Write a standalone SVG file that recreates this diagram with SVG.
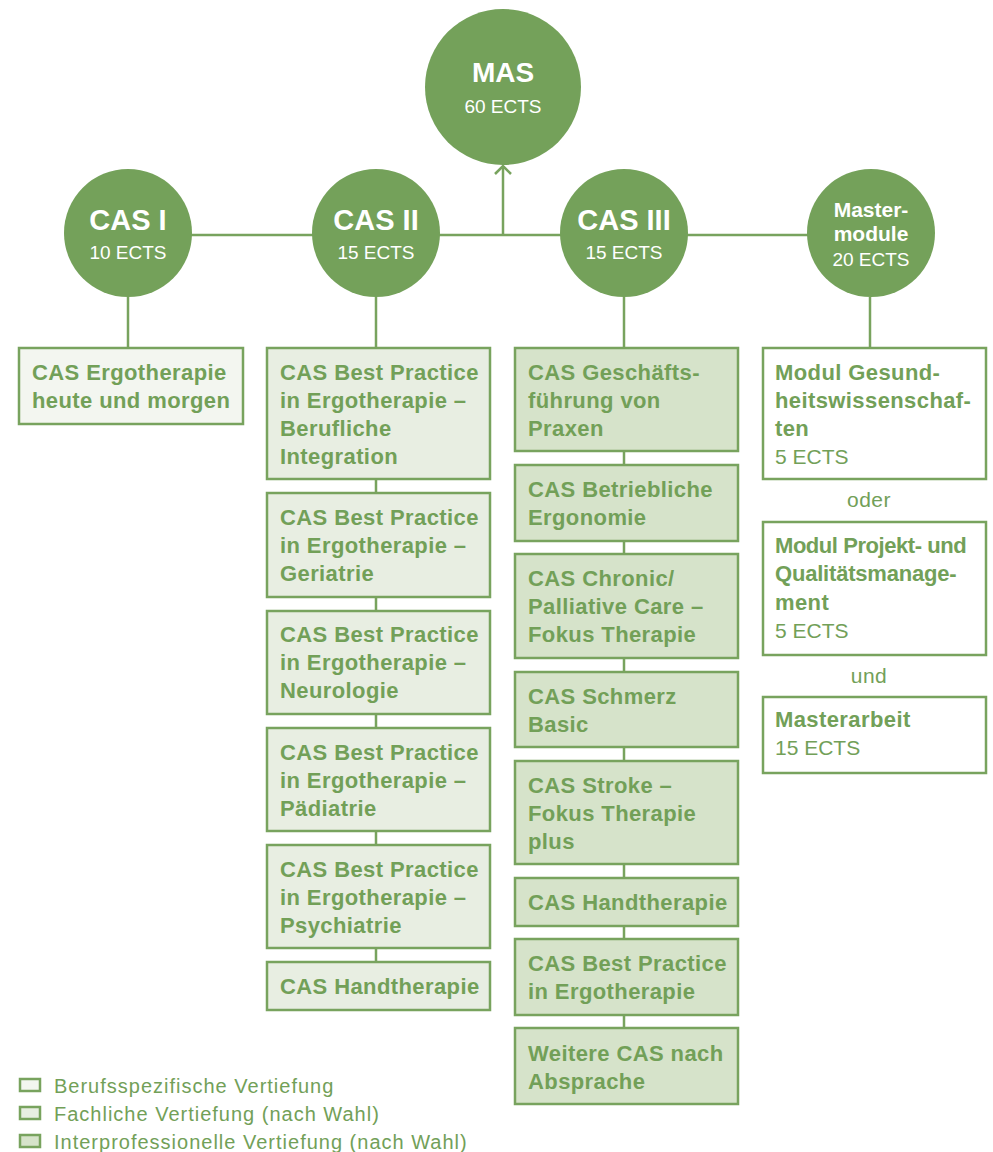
<svg xmlns="http://www.w3.org/2000/svg" width="993" height="1152" viewBox="0 0 993 1152">
<style>
.c{fill:#74a15a}
.ln{stroke:#78a35e;stroke-width:2.5;fill:none}
.b{stroke:#78a35e;stroke-width:2.5}
.f1{fill:#f3f6f0}.f2{fill:#e8eee2}.f3{fill:#d6e3ca}.f0{fill:#ffffff}
text{font-family:"Liberation Sans",Arial,sans-serif}
.ct{fill:#ffffff;font-weight:bold;text-anchor:middle}
.cs{fill:#ffffff;font-size:19px;text-anchor:middle}
.bt{fill:#72a058;font-weight:bold;font-size:22px;letter-spacing:0.4px}
.rt{fill:#72a058;font-size:21px}
.lg{fill:#72a058;font-size:20px;letter-spacing:1px}
.ot{fill:#72a058;font-size:21px;letter-spacing:0.5px;text-anchor:middle}
</style>
<g id="connectors">
<line class="ln" x1="128" y1="235" x2="871" y2="235"/>
<line class="ln" x1="503" y1="235" x2="503" y2="166"/>
<polyline class="ln" points="495,174 503,166 511,174"/>
<line class="ln" x1="128" y1="297" x2="128" y2="348"/>
<line class="ln" x1="376" y1="297" x2="376" y2="348"/>
<line class="ln" x1="624" y1="297" x2="624" y2="348"/>
<line class="ln" x1="870" y1="297" x2="870" y2="348"/>
<line class="ln" x1="376" y1="479" x2="376" y2="962"/>
<line class="ln" x1="624" y1="451" x2="624" y2="1028"/>
</g>
<g id="mas"><circle class="c" cx="503" cy="87" r="78"/>
<text class="ct" x="503" y="82" font-size="28">MAS</text>
<text class="cs" x="503" y="113">60 ECTS</text></g>
<g id="cas1"><circle class="c" cx="128" cy="233" r="64"/>
<text class="ct" x="128" y="230" font-size="29">CAS I</text>
<text class="cs" x="128" y="259">10 ECTS</text></g>
<g id="cas2"><circle class="c" cx="376" cy="233" r="64"/>
<text class="ct" x="376" y="230" font-size="29">CAS II</text>
<text class="cs" x="376" y="259">15 ECTS</text></g>
<g id="cas3"><circle class="c" cx="624" cy="233" r="64"/>
<text class="ct" x="624" y="230" font-size="29">CAS III</text>
<text class="cs" x="624" y="259">15 ECTS</text></g>
<g id="master"><circle class="c" cx="871" cy="233" r="64"/>
<text class="ct" x="871" y="217" font-size="21">Master-</text>
<text class="ct" x="871" y="241" font-size="21">module</text>
<text class="cs" x="871" y="266">20 ECTS</text></g>

<g id="b1"><rect class="b f1" x="19" y="348" width="224" height="76"/>
<text class="bt" x="32" y="380">CAS Ergotherapie</text>
<text class="bt" x="32" y="408">heute und morgen</text></g>

<g id="b2a"><rect class="b f2" x="267" y="348" width="223" height="131"/>
<text class="bt" x="280" y="380">CAS Best Practice</text>
<text class="bt" x="280" y="408">in Ergotherapie –</text>
<text class="bt" x="280" y="436">Berufliche</text>
<text class="bt" x="280" y="464">Integration</text></g>
<g id="b2b"><rect class="b f2" x="267" y="493" width="223" height="104"/>
<text class="bt" x="280" y="525">CAS Best Practice</text>
<text class="bt" x="280" y="553">in Ergotherapie –</text>
<text class="bt" x="280" y="581">Geriatrie</text></g>
<g id="b2c"><rect class="b f2" x="267" y="611" width="223" height="103"/>
<text class="bt" x="280" y="642">CAS Best Practice</text>
<text class="bt" x="280" y="670">in Ergotherapie –</text>
<text class="bt" x="280" y="698">Neurologie</text></g>
<g id="b2d"><rect class="b f2" x="267" y="728" width="223" height="103"/>
<text class="bt" x="280" y="760">CAS Best Practice</text>
<text class="bt" x="280" y="788">in Ergotherapie –</text>
<text class="bt" x="280" y="816">Pädiatrie</text></g>
<g id="b2e"><rect class="b f2" x="267" y="845" width="223" height="103"/>
<text class="bt" x="280" y="877">CAS Best Practice</text>
<text class="bt" x="280" y="905">in Ergotherapie –</text>
<text class="bt" x="280" y="933">Psychiatrie</text></g>
<g id="b2f"><rect class="b f2" x="267" y="962" width="223" height="48"/>
<text class="bt" x="280" y="994">CAS Handtherapie</text></g>

<g id="b3a"><rect class="b f3" x="515" y="348" width="223" height="103"/>
<text class="bt" x="528" y="380">CAS Geschäfts-</text>
<text class="bt" x="528" y="408">führung von</text>
<text class="bt" x="528" y="436">Praxen</text></g>
<g id="b3b"><rect class="b f3" x="515" y="465" width="223" height="76"/>
<text class="bt" x="528" y="497">CAS Betriebliche</text>
<text class="bt" x="528" y="525">Ergonomie</text></g>
<g id="b3c"><rect class="b f3" x="515" y="554" width="223" height="104"/>
<text class="bt" x="528" y="586">CAS Chronic/</text>
<text class="bt" x="528" y="614">Palliative Care –</text>
<text class="bt" x="528" y="642">Fokus Therapie</text></g>
<g id="b3d"><rect class="b f3" x="515" y="672" width="223" height="75"/>
<text class="bt" x="528" y="704">CAS Schmerz</text>
<text class="bt" x="528" y="732">Basic</text></g>
<g id="b3e"><rect class="b f3" x="515" y="761" width="223" height="103"/>
<text class="bt" x="528" y="793">CAS Stroke –</text>
<text class="bt" x="528" y="821">Fokus Therapie</text>
<text class="bt" x="528" y="849">plus</text></g>
<g id="b3f"><rect class="b f3" x="515" y="878" width="223" height="48"/>
<text class="bt" x="528" y="910">CAS Handtherapie</text></g>
<g id="b3g"><rect class="b f3" x="515" y="939" width="223" height="76"/>
<text class="bt" x="528" y="971">CAS Best Practice</text>
<text class="bt" x="528" y="999">in Ergotherapie</text></g>
<g id="b3h"><rect class="b f3" x="515" y="1028" width="223" height="76"/>
<text class="bt" x="528" y="1061">Weitere CAS nach</text>
<text class="bt" x="528" y="1089">Absprache</text></g>

<g id="m1"><rect class="b f0" x="763" y="348" width="223" height="131"/>
<text class="bt" x="775" y="380">Modul Gesund-</text>
<text class="bt" x="775" y="408">heitswissenschaf-</text>
<text class="bt" x="775" y="436">ten</text>
<text class="rt" x="775" y="464">5 ECTS</text></g>
<g id="oder"><text class="ot" x="869" y="507">oder</text></g>
<g id="m2"><rect class="b f0" x="763" y="522" width="223" height="133"/>
<text class="bt" x="775" y="553" textLength="192">Modul Projekt- und</text>
<text class="bt" x="775" y="581" textLength="182">Qualitätsmanage-</text>
<text class="bt" x="775" y="610">ment</text>
<text class="rt" x="775" y="638">5 ECTS</text></g>
<g id="und"><text class="ot" x="869" y="683">und</text></g>
<g id="m3"><rect class="b f0" x="763" y="697" width="223" height="76"/>
<text class="bt" x="775" y="727">Masterarbeit</text>
<text class="rt" x="775" y="755">15 ECTS</text></g>

<g id="legend">
<rect class="b f1" x="20" y="1079" width="20" height="12" stroke-width="2"/>
<text class="lg" x="54" y="1093">Berufsspezifische Vertiefung</text>
<rect class="b f2" x="20" y="1107" width="20" height="12" stroke-width="2"/>
<text class="lg" x="54" y="1121">Fachliche Vertiefung (nach Wahl)</text>
<rect class="b f3" x="20" y="1135" width="20" height="12" stroke-width="2"/>
<text class="lg" x="54" y="1149">Interprofessionelle Vertiefung (nach Wahl)</text>
</g>
</svg>
